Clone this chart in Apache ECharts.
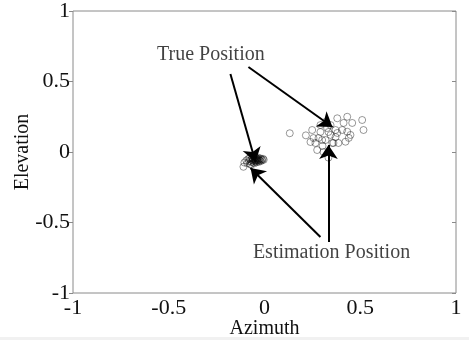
<!DOCTYPE html>
<html>
<head>
<meta charset="utf-8">
<script src="https://cdn.jsdelivr.net/npm/echarts@6/dist/echarts.min.js"></script>
<style>html,body{margin:0;padding:0;background:#fff;}#c{width:469px;height:340px;}</style>
</head>
<body>
<div id="c"></div>
<script>
// Axis ranges / ticks
var xTicks = [-1, -0.5, 0, 0.5, 1];
var yTicks = [-1, -0.5, 0, 0.5, 1];

// Estimated positions, source near (-0.05, -0.05)
var clusterLeft = [
  [-0.110,-0.105],[-0.105,-0.075],[-0.095,-0.060],[-0.090,-0.080],[-0.085,-0.050],
  [-0.080,-0.065],[-0.078,-0.045],[-0.075,-0.085],[-0.070,-0.055],[-0.068,-0.070],
  [-0.065,-0.040],[-0.062,-0.060],[-0.060,-0.050],[-0.058,-0.075],[-0.055,-0.045],
  [-0.053,-0.062],[-0.050,-0.055],[-0.050,-0.035],[-0.048,-0.068],[-0.046,-0.050],
  [-0.045,-0.060],[-0.043,-0.042],[-0.041,-0.072],[-0.040,-0.055],[-0.038,-0.048],
  [-0.036,-0.063],[-0.034,-0.040],[-0.032,-0.058],[-0.030,-0.070],[-0.028,-0.050],
  [-0.025,-0.060],[-0.022,-0.045],[-0.020,-0.065],[-0.016,-0.052],[-0.012,-0.058],
  [-0.008,-0.048],[-0.004,-0.055],[-0.060,-0.030],[-0.052,-0.080],[-0.070,-0.090]
];

// Estimated positions, source near (0.35, 0.15)
var clusterRight = [
  [0.132,0.133],[0.216,0.118],[0.249,0.156],[0.256,0.099],[0.266,0.064],
  [0.292,0.142],[0.301,0.085],[0.275,0.014],[0.308,0.000],[0.327,0.170],
  [0.345,0.121],[0.354,0.064],[0.371,0.106],[0.371,0.156],[0.380,0.239],
  [0.413,0.206],[0.406,0.156],[0.432,0.250],[0.458,0.206],[0.449,0.121],
  [0.510,0.227],[0.517,0.156],[0.423,0.073],[0.380,0.135],[0.360,0.064],
  [0.334,-0.040],[0.292,0.191],[0.319,0.213],[0.345,0.191],[0.282,0.099],
  [0.319,0.085],[0.386,0.064],[0.334,0.142],[0.240,0.071],[0.303,0.043],
  [0.432,0.144],[0.440,0.100]
];

// Annotation text and arrows (data coordinates)
var annoText = ['True Position', 'Estimation Position'];
var annoX = [-0.28, 0.35];
var annoY = [0.69, -0.715];
var arrowFrom = [[-0.178,0.553],[-0.084,0.603],[0.292,-0.603],[0.334,-0.638]];
var arrowTo   = [[-0.047,-0.071],[0.355,0.177],[-0.073,-0.113],[0.334,0.050]];

var font = 'Liberation Serif, Times New Roman, serif';
var axisGray = '#8a8a8a';

var chart = echarts.init(document.getElementById('c'), null, {renderer: 'canvas'});

var circleStyle = {
  color: 'rgba(0,0,0,0)',
  borderColor: 'rgba(0,0,0,0.5)',
  borderWidth: 1
};

var arrowLines = arrowFrom.map(function (f, i) {
  return [{coord: f}, {coord: arrowTo[i]}];
});

var annoData = annoText.map(function (t, i) { return [annoX[i], annoY[i], t]; });

chart.setOption({
  animation: false,
  backgroundColor: '#fff',
  graphic: [{
    type: 'rect', silent: true, z: -1,
    shape: {x: 0, y: 337, width: 469, height: 3},
    style: {fill: '#f1f1f1'}
  }],
  grid: {left: 73, right: 13, top: 11, bottom: 47, containLabel: false, outerBoundsMode: 'none',
         show: true, borderColor: axisGray, borderWidth: 1, backgroundColor: 'transparent'},
  xAxis: [{
    type: 'value', min: xTicks[0], max: xTicks[xTicks.length - 1], interval: 0.5,
    name: 'Azimuth', nameLocation: 'middle', nameGap: 26, nameMoveOverlap: false,
    nameTextStyle: {fontFamily: font, fontSize: 20, color: '#111'},
    axisLine: {show: false, onZero: false},
    axisTick: {show: false},
    splitLine: {show: false},
    axisLabel: {fontFamily: font, fontSize: 22, color: '#111', margin: 4}
  }],
  yAxis: [{
    type: 'value', min: yTicks[0], max: yTicks[yTicks.length - 1], interval: 0.5,
    name: 'Elevation', nameLocation: 'middle', nameGap: 40, nameMoveOverlap: false,
    nameTextStyle: {fontFamily: font, fontSize: 20, color: '#111'},
    axisLine: {show: false, onZero: false},
    axisTick: {show: true, inside: false, length: 4, lineStyle: {color: axisGray}},
    splitLine: {show: false},
    axisLabel: {fontFamily: font, fontSize: 22, color: '#111', margin: 3}
  }, {
    type: 'value', position: 'right', min: yTicks[0], max: yTicks[yTicks.length - 1], interval: 0.5,
    axisLine: {show: false, onZero: false},
    axisTick: {show: true, inside: true, length: 4, lineStyle: {color: axisGray}},
    axisLabel: {show: false},
    splitLine: {show: false}
  }],
  series: [{
    type: 'scatter', data: clusterLeft, symbol: 'circle', symbolSize: 7,
    itemStyle: circleStyle, silent: true
  }, {
    type: 'scatter', data: clusterRight, symbol: 'circle', symbolSize: 7,
    itemStyle: circleStyle, silent: true,
    markLine: {
      silent: true, animation: false,
      symbol: ['none', 'arrow'], symbolSize: 14,
      lineStyle: {color: '#000', width: 2, type: 'solid', opacity: 1},
      label: {show: false},
      data: arrowLines
    }
  }, {
    type: 'scatter', data: annoData, symbolSize: 0, silent: true, z: 5,
    label: {
      show: true, position: 'inside',
      formatter: function (p) { return p.data[2]; },
      fontFamily: font, fontSize: 20, color: '#111'
    }
  }]
});
</script>
</body>
</html>
